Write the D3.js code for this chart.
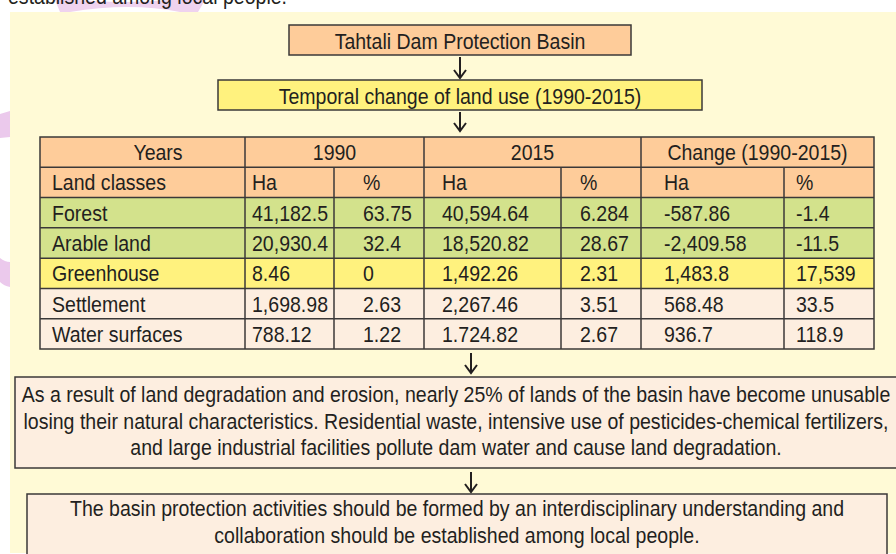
<!DOCTYPE html>
<meta charset="utf-8">
<script src="https://d3js.org/d3.v7.min.js"></script>
<style>
  body { margin: 0; background: #fff; }
  svg text { font-family: "Liberation Sans", Arial, sans-serif; fill: #231f20; }
</style>
<div id="my_dataviz"></div>
<script>

// table data
var landClasses = ["Forest", "Arable land", "Greenhouse", "Settlement", "Water surfaces"];
var ha1990  = ["41,182.5", "20,930.4", "8.46", "1,698.98", "788.12"];
var pct1990 = ["63.75", "32.4", "0", "2.63", "1.22"];
var ha2015  = ["40,594.64", "18,520.82", "1,492.26", "2,267.46", "1.724.82"];
var pct2015 = ["6.284", "28.67", "2.31", "3.51", "2.67"];
var haChange  = ["-587.86", "-2,409.58", "1,483.8", "568.48", "936.7"];
var pctChange = ["-1.4", "-11.5", "17,539", "33.5", "118.9"];

var groupHeaders = ["Years", "1990", "2015", "Change (1990-2015)"];
var subHeaders = ["Land classes", "Ha", "%", "Ha", "%", "Ha", "%"];

var titleText = "Tahtali Dam Protection Basin";
var subtitleText = "Temporal change of land use (1990-2015)";
var para1Lines = [
  "As a result of land degradation and erosion, nearly 25% of lands of the basin have become unusable",
  "losing their natural characteristics. Residential waste, intensive use of pesticides-chemical fertilizers,",
  "and large industrial facilities pollute dam water and cause land degradation."
];
var para2Lines = [
  "The basin protection activities should be formed by an interdisciplinary understanding and",
  "collaboration should be established among local people."
];

var width = 896, height = 554;
var fs = 22, sx = 0.888;   // condensed look of the original font
var ink = "#231f20", edge = "#3b3838";

var svg = d3.select("#my_dataviz")
  .append("svg")
    .attr("width", width)
    .attr("height", height);

svg.append("rect").attr("width", width).attr("height", height).attr("fill", "#fff");

// pink decoration behind the panel
svg.append("path")
  .attr("d", "M55,0 L78,0 Q120,4 170,0 L205,0 L198,12 L180,12 Q130,2 70,12 L60,12 Z")
  .attr("fill", "#efd3ef");
svg.append("path")
  .attr("d", "M0,114 L10,111 L10,137 L0,138 Z")
  .attr("fill", "#ebc9ec");
svg.append("path")
  .attr("d", "M0,258 Q5,262 10,262 L10,287 Q4,286 0,282 Z")
  .attr("fill", "#ebc9ec");

function txt(g, s, x, y, anchor) {
  return g.append("text")
    .attr("transform", "translate(" + x + "," + y + ") scale(" + sx + ",1)")
    .attr("text-anchor", anchor || "start")
    .attr("font-size", fs)
    .text(s);
}
// line cut off at the top of the page, as in the original
txt(svg, "established among local people.", 8, 4);

// panel
svg.append("rect")
  .attr("x", 10).attr("y", 12)
  .attr("width", width - 10).attr("height", 541)
  .attr("fill", "#fffad6");

function box(x, y, w, h, fill) {
  svg.append("rect")
    .attr("x", x).attr("y", y).attr("width", w).attr("height", h)
    .attr("fill", fill).attr("stroke", edge).attr("stroke-width", 1.5);
}
function arrow(x, y1, y2) {
  svg.append("path")
    .attr("d", "M" + x + "," + y1 + " V" + y2 + " M" + (x - 6) + "," + (y2 - 8) + " L" + x + "," + y2 + " L" + (x + 6) + "," + (y2 - 8))
    .attr("fill", "none").attr("stroke", ink).attr("stroke-width", 2);
}

// title boxes
box(289, 25, 342, 30, "#fecc9a");
txt(svg, titleText, 460, 48.5, "middle");
arrow(460, 57, 78);
box(218, 80, 484, 30, "#fff27e");
txt(svg, subtitleText, 460, 103.5, "middle");
arrow(460, 112, 131);

// table
var colEdges = [40, 245, 334, 424, 561, 641, 784, 874];
var textX = [52, 252, 363, 442, 580, 664, 796];
var groupSpans = [[0, 1], [1, 3], [3, 5], [5, 7]];
var groupX = [158, null, null, null];

var y = d3.scaleBand()
  .domain(d3.range(2 + landClasses.length))
  .range([137, 349]);

var rowFill = ["#fecc9a", "#fecc9a", "#d3e28c", "#d3e28c", "#fff27e", "#fdeee0", "#fdeee0"];

var table = svg.append("g");

table.selectAll("rect.row")
  .data(rowFill)
  .enter()
  .append("rect")
    .attr("class", "row")
    .attr("x", colEdges[0])
    .attr("y", function(d, i) { return y(i); })
    .attr("width", colEdges[7] - colEdges[0])
    .attr("height", y.bandwidth())
    .attr("fill", function(d) { return d; });

// group header
groupHeaders.forEach(function(h, i) {
  var a = colEdges[groupSpans[i][0]], b = colEdges[groupSpans[i][1]];
  var cx = groupX[i] || (a + b) / 2;
  txt(table, h, cx, y(0) + y.bandwidth() / 2 + 8, "middle");
});

// sub header and body
var columns = [landClasses, ha1990, pct1990, ha2015, pct2015, haChange, pctChange];
subHeaders.forEach(function(h, c) {
  txt(table, h, textX[c], y(1) + y.bandwidth() / 2 + 8);
  columns[c].forEach(function(v, r) {
    txt(table, v, textX[c], y(r + 2) + y.bandwidth() / 2 + 8);
  });
});

// grid lines
var lines = table.append("g").attr("stroke", edge).attr("stroke-width", 1.5);
d3.range(1, 2 + landClasses.length).forEach(function(i) {
  lines.append("line").attr("x1", colEdges[0]).attr("x2", colEdges[7])
    .attr("y1", y(i)).attr("y2", y(i));
});
colEdges.slice(1, 7).forEach(function(x, i) {
  var top = (i % 2 === 0) ? y(0) : y(1);  // sub-column borders start below the group row
  lines.append("line").attr("x1", x).attr("x2", x)
    .attr("y1", top).attr("y2", y.range()[1]);
});
table.append("rect")
  .attr("x", colEdges[0]).attr("y", y.range()[0])
  .attr("width", colEdges[7] - colEdges[0]).attr("height", y.range()[1] - y.range()[0])
  .attr("fill", "none").attr("stroke", edge).attr("stroke-width", 1.5);

// conclusions
arrow(471, 353, 373);
box(15, 377, 890, 91, "#fdeee0");
para1Lines.forEach(function(s, i) {
  txt(svg, s, 456, 402 + i * 26.5, "middle");
});
arrow(471, 472, 492);
box(27, 494, 860, 62, "#fdeee0");
para2Lines.forEach(function(s, i) {
  txt(svg, s, 457, 516 + i * 27, "middle");
});

</script>
